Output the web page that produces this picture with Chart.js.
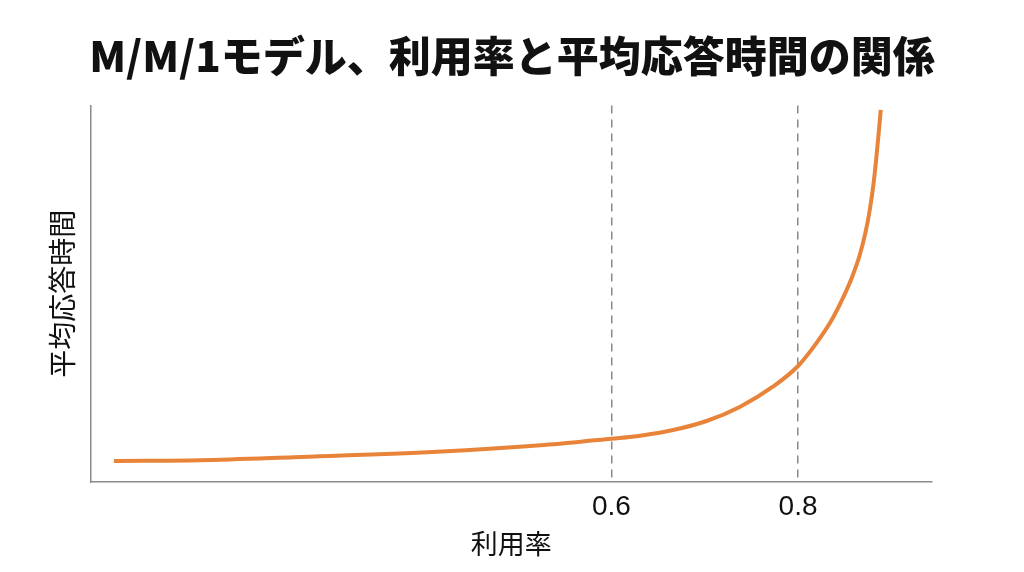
<!DOCTYPE html>
<html lang="ja">
<head>
<meta charset="utf-8">
<title>M/M/1モデル、利用率と平均応答時間の関係</title>
<script src="https://cdn.jsdelivr.net/npm/chart.js@4"></script>
<style>
    html, body { margin: 0; padding: 0; background: #fff; }
    #wrap { width: 1024px; height: 572px; }
</style>
</head>
<body>
<div id="wrap"><canvas id="mm1Chart"></canvas></div>
<script>
// utilisation (x) and response time (arbitrary units)
const rho = [0.067, 0.159, 0.260, 0.413, 0.528, 0.600, 0.631, 0.666, 0.702, 0.738, 0.773,
             0.800, 0.820, 0.836, 0.848, 0.858, 0.866, 0.872, 0.877, 0.881, 0.884, 0.8865, 0.8886];
const respTime = [0.56, 0.58, 0.66, 0.80, 0.98, 1.15, 1.23, 1.38, 1.62, 2.00, 2.53,
                  3.08, 3.70, 4.30, 4.88, 5.45, 6.02, 6.60, 7.25, 7.95, 8.65, 9.30, 9.88];
const xTicks = [0.6, 0.8];

const titleText = 'M/M/1モデル、利用率と平均応答時間の関係';
const xTitle = '利用率';
const yTitle = '平均応答時間';

const axisGray = '#8a8a8a';
const lineOrange = '#e8833a';

const ctx = document.getElementById('mm1Chart').getContext('2d');
const chart = new Chart(ctx, {
    type: 'line',
    data: {
        datasets: [{
            label: yTitle,
            data: rho.map((r, i) => ({ x: r, y: respTime[i] })),
            borderColor: lineOrange,
            borderWidth: 4,
            pointRadius: 0,
            fill: false,
            cubicInterpolationMode: 'monotone'
        }]
    },
    options: {
        responsive: true,
        maintainAspectRatio: false,
        animation: false,
        layout: {
            padding: { left: 46, right: 46, top: 0, bottom: 12 }
        },
        plugins: {
            legend: { display: false },
            tooltip: { enabled: false },
            title: {
                display: true,
                text: titleText,
                color: '#111',
                font: { family: '"Noto Sans CJK JP", sans-serif', size: 42, weight: 900 },
                padding: { top: 31, bottom: 24 }
            }
        },
        scales: {
            x: {
                type: 'linear',
                min: 0.042,
                max: 0.9435,
                afterBuildTicks: (scale) => {
                    scale.ticks = xTicks.map(v => ({ value: v }));
                },
                ticks: {
                    color: '#111',
                    padding: 8,
                    font: { family: '"Liberation Sans", Arial, sans-serif', size: 28 },
                    callback: (v) => Number(v).toFixed(1)
                },
                grid: {
                    display: true,
                    drawTicks: false,
                    color: axisGray,
                    lineWidth: 1.5
                },
                border: {
                    display: true,
                    color: axisGray,
                    width: 1.5,
                    dash: [8, 6]
                },
                title: {
                    display: true,
                    text: xTitle,
                    color: '#111',
                    font: { family: '"Noto Sans CJK JP", sans-serif', size: 27 },
                    padding: { top: -4, bottom: 0 }
                }
            },
            y: {
                min: 0,
                max: 10,
                ticks: { display: false },
                grid: { display: false, drawTicks: false },
                border: {
                    display: true,
                    color: axisGray,
                    width: 1.5
                },
                title: {
                    display: true,
                    text: yTitle,
                    color: '#111',
                    font: { family: '"Noto Sans CJK JP", sans-serif', size: 28 },
                    padding: { top: 0, bottom: 11 }
                }
            },
            // empty right-hand axis: keeps the right margin so the title stays centred
            yRight: {
                type: 'linear',
                position: 'right',
                min: 0,
                max: 10,
                ticks: { display: false },
                grid: { display: false, drawTicks: false },
                border: { display: false },
                afterFit: (scale) => { scale.width = 46; }
            }
        }
    }
});
</script>
</body>
</html>
